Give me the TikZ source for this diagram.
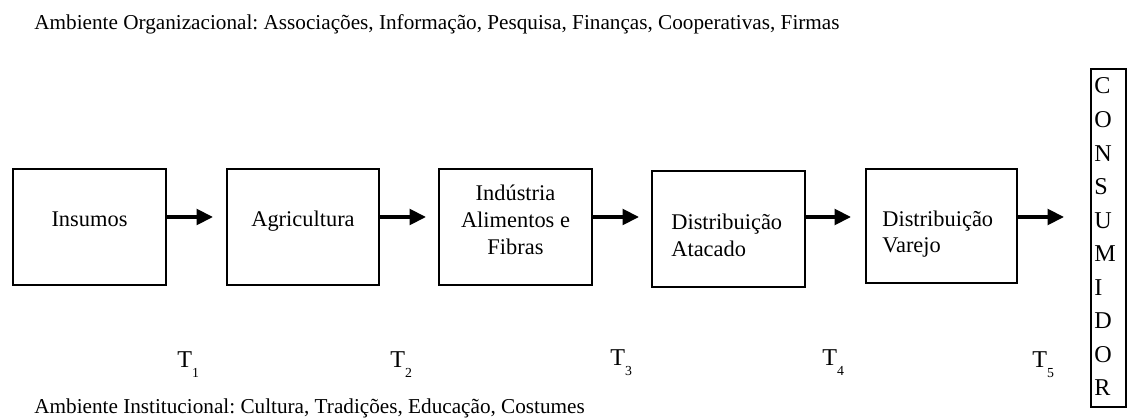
\documentclass[tikz,border=0pt]{standalone}
\usepackage{fontspec}
\setmainfont{Liberation Serif}
\usetikzlibrary{arrows.meta}
\frenchspacing
\begin{document}
\begin{tikzpicture}[x=0.58pt,y=-0.58pt,
  stage/.style={draw,line width=1.1pt,inner sep=0pt},
  lbl/.style={font=\fontsize{13}{15.5}\selectfont,inner sep=0pt},
  amb/.style={font=\fontsize{12.3}{15}\selectfont,inner sep=0pt,anchor=base west},
  letter/.style={font=\fontsize{14}{16}\selectfont,inner sep=0pt,anchor=base west},
  flow/.style={line width=2.1pt,-{Triangle[length=9.5pt,width=9pt]}},
  tl/.style={font=\fontsize{14}{16}\selectfont,inner sep=0pt,anchor=base west}]
\useasboundingbox (0,0) rectangle (1127,419);
% top and bottom texts
\node[amb] (org) at (34,30) {Ambiente Organizacional: Associações, Informação, Pesquisa, Finanças, Cooperativas, Firmas};
\node[amb] (inst) at (34,413) {Ambiente Institucional: Cultura, Tradições, Educação, Costumes};
% boxes
\node[stage,minimum width=153*0.58pt,minimum height=116*0.58pt] (b1) at (89.5,227) {};
\node[stage,minimum width=152*0.58pt,minimum height=116*0.58pt] (b2) at (303,227) {};
\node[stage,minimum width=153*0.58pt,minimum height=116*0.58pt] (b3) at (515.5,227) {};
\node[stage,minimum width=153*0.58pt,minimum height=116*0.58pt] (b4) at (728.5,229) {};
\node[stage,minimum width=151*0.58pt,minimum height=114*0.58pt] (b5) at (941.5,226) {};
% box texts
\node[lbl,anchor=base] (t1) at (89.5,227) {Insumos};
\node[lbl,anchor=base] (t2) at (303,227) {Agricultura};
\node[lbl,align=center] (t3) at (515.5,220) {Indústria\\Alimentos e\\Fibras};
\node[lbl,align=left,anchor=west] (t4) at (671,235) {Distribuição\\Atacado};
\node[lbl,align=left,anchor=west] (t5) at (882,234) {Distribuição\\Varejo};
% consumer box
\node[draw,line width=0.6pt,minimum width=35*0.58pt,minimum height=338*0.58pt,inner sep=0pt] (cons) at (1108.5,238) {};
\foreach \l [count=\i] in {C,O,N,S,U,M,I,D,O,R}
  \node[letter] (c\i) at (1094,{94+(\i-1)*33.55}) {\l};
% arrows
\coordinate (e1) at (213,217);
\coordinate (e2) at (426,217);
\coordinate (e3) at (639,217);
\coordinate (e4) at (851,217);
\coordinate (e5) at (1064,217);
\draw[flow] (b1.east |- e1) -- (e1);
\draw[flow] (b2.east |- e2) -- (e2);
\draw[flow] (b3.east |- e3) -- (e3);
\draw[flow] (b4.east |- e4) -- (e4);
\draw[flow] (b5.east |- e5) -- (e5);
% T labels
\node[tl] (T1) at (177,368) {T\raisebox{-0.9ex}{\fontsize{8}{9}\selectfont 1}};
\node[tl] (T2) at (390,368) {T\raisebox{-0.9ex}{\fontsize{8}{9}\selectfont 2}};
\node[tl] (T3) at (610,366) {T\raisebox{-0.9ex}{\fontsize{8}{9}\selectfont 3}};
\node[tl] (T4) at (822,366) {T\raisebox{-0.9ex}{\fontsize{8}{9}\selectfont 4}};
\node[tl] (T5) at (1032,368) {T\raisebox{-0.9ex}{\fontsize{8}{9}\selectfont 5}};
\end{tikzpicture}
\end{document}
